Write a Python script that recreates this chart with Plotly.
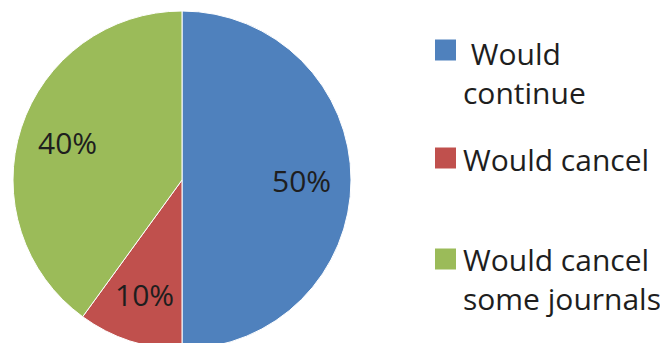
import math
import plotly.graph_objects as go

# ---- data ----
labels = ["Would continue", "Would cancel", "Would cancel some journals"]
legend_text = ["\u00a0Would<br>continue", "Would cancel", "Would cancel<br>some journals"]
values = [50, 10, 40]
colors = ["#4F81BD", "#C0504D", "#9BBB59"]

# ---- layout constants (pixels in the page) ----
W, H = 668, 350
OX, OY = 8, 8            # default body margin of the html page
CX, CY, R = 182, 180, 169
LABEL_FRAC = 0.71
FONT = "Open Sans"
TXT = "#1e1e1e"


def px(x):
    return (x - OX) / W


def py(y):
    return 1 - (y - OY) / H


fig = go.Figure(go.Pie(
    labels=labels,
    values=values,
    sort=False,
    direction="clockwise",
    rotation=0,
    marker=dict(colors=colors, line=dict(color="white", width=1)),
    textinfo="none",
    domain=dict(x=[px(CX - R), px(CX + R)], y=[py(CY + R), py(CY - R)]),
    hoverinfo="label+percent",
    showlegend=False,
))

annotations = []
shapes = []

# percentage labels placed at the middle angle of each slice
total = sum(values)
start = 0.0
for v in values:
    mid = (start + v / 2) / total * 2 * math.pi
    start += v
    x = CX + LABEL_FRAC * R * math.sin(mid)
    y = CY - LABEL_FRAC * R * math.cos(mid)
    annotations.append(dict(
        x=px(x), y=py(y), xref="paper", yref="paper",
        text=f"{round(v / total * 100)}%", showarrow=False,
        xanchor="center", yanchor="middle",
        font=dict(family=FONT, size=30, color=TXT),
    ))

# legend (squares + labels)
sq_centers = [50, 158, 259]
text_tops = [31, 137, 237]
SQ = 21
SQ_X = 435
for i, (txt, col) in enumerate(zip(legend_text, colors)):
    c = sq_centers[i]
    shapes.append(dict(
        type="rect", xref="paper", yref="paper",
        x0=px(SQ_X), x1=px(SQ_X + SQ), y0=py(c + SQ / 2), y1=py(c - SQ / 2),
        fillcolor=col, line=dict(width=0),
    ))
    annotations.append(dict(
        x=px(461), y=py(text_tops[i]), xref="paper", yref="paper",
        text=txt, showarrow=False, align="left",
        xanchor="left", yanchor="top",
        font=dict(family=FONT, size=30, color=TXT),
    ))

fig.update_layout(
    width=W, height=H,
    margin=dict(l=0, r=0, t=0, b=0),
    paper_bgcolor="white",
    annotations=annotations,
    shapes=shapes,
)

fig.write_html("out.html")
